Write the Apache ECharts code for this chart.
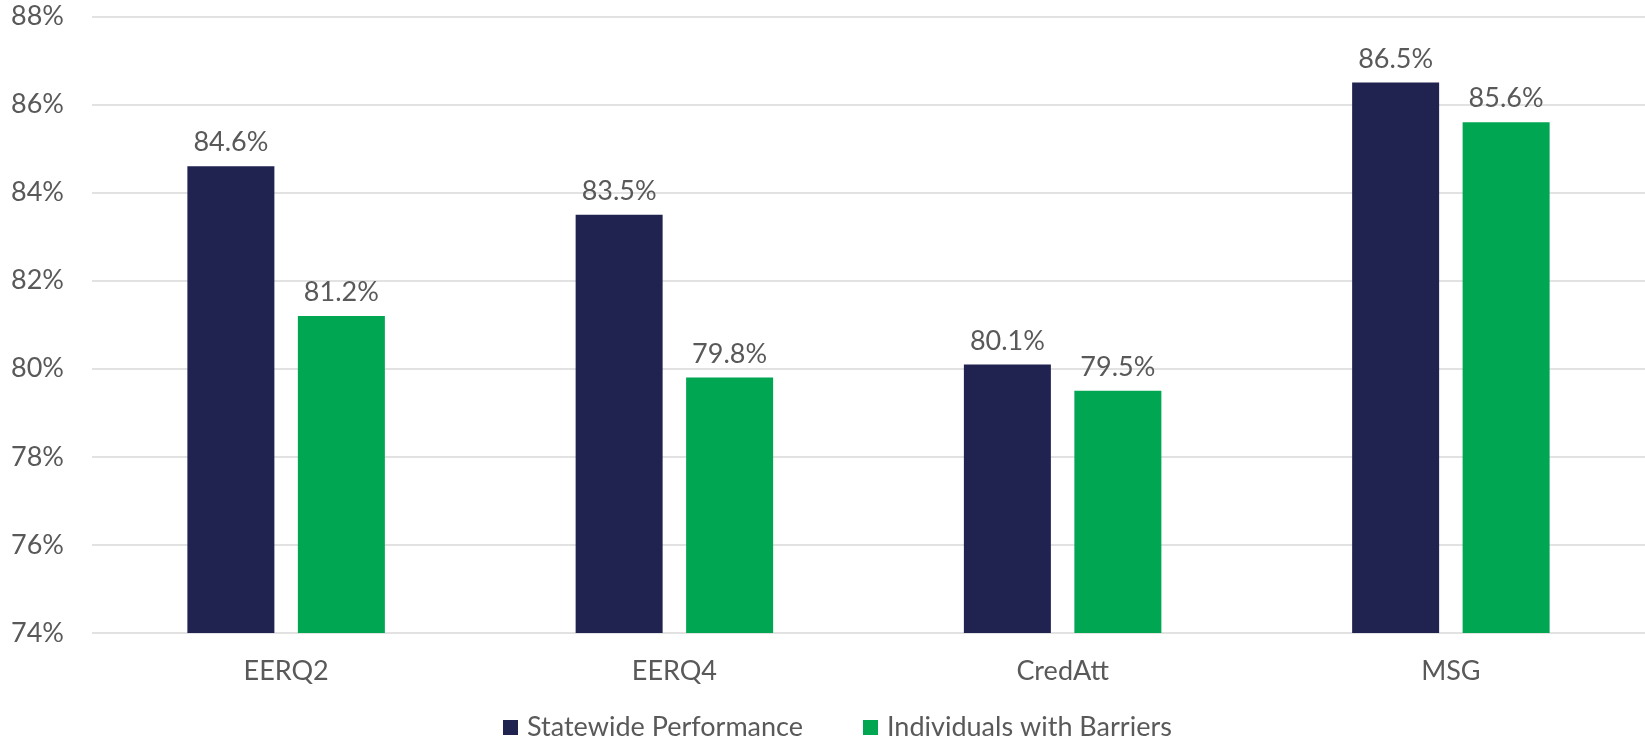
<!DOCTYPE html>
<html>
<head>
<meta charset="utf-8">
<script src="https://cdn.jsdelivr.net/npm/echarts@6/dist/echarts.min.js"></script>
<style>
  html, body { margin: 0; padding: 0; background: #ffffff; }
  #chart { width: 1645px; height: 740px; }
</style>
</head>
<body>
<div id="chart"></div>
<script>
// Performance measures by group
const categories = ['EERQ2', 'EERQ4', 'CredAtt', 'MSG'];
const seriesNames = ['Statewide Performance', 'Individuals with Barriers'];
const statewide = [84.6, 83.5, 80.1, 86.5];
const barriers = [81.2, 79.8, 79.5, 85.6];
const yTicks = { min: 74, max: 88, interval: 2 };

const FONT = 'Lato';
const TEXT = '#595959';
const SIZE = 27;

const chart = echarts.init(document.getElementById('chart'), null, { renderer: 'canvas' });

const valueLabel = {
  show: true,
  position: 'top',
  distance: 10,
  color: TEXT,
  fontFamily: FONT,
  fontSize: SIZE,
  formatter: p => p.value.toFixed(1) + '%'
};

chart.setOption({
  backgroundColor: '#ffffff',
  animation: false,
  grid: { left: 92, right: 0, top: 16.5, bottom: 107, containLabel: false },
  legend: {
    data: seriesNames,
    left: 498,
    top: 709,
    itemWidth: 15,
    itemHeight: 15,
    itemGap: 60,
    icon: 'rect',
    textStyle: { color: TEXT, fontFamily: FONT, fontSize: SIZE, padding: [0, 0, 0, 4] }
  },
  xAxis: {
    type: 'category',
    data: categories,
    axisLine: { show: false },
    axisTick: { show: false },
    axisLabel: { color: TEXT, fontFamily: FONT, fontSize: SIZE, margin: 25 }
  },
  yAxis: {
    type: 'value',
    min: yTicks.min,
    max: yTicks.max,
    interval: yTicks.interval,
    axisLine: { show: false },
    axisTick: { show: false },
    splitLine: { lineStyle: { color: '#d9d9d9', width: 1.5 } },
    axisLabel: { color: TEXT, fontFamily: FONT, fontSize: SIZE, margin: 28, formatter: '{value}%' }
  },
  series: [
    {
      name: seriesNames[0],
      type: 'bar',
      data: statewide,
      barWidth: 87,
      barGap: '27%',
      itemStyle: { color: '#202350' },
      label: valueLabel
    },
    {
      name: seriesNames[1],
      type: 'bar',
      data: barriers,
      barWidth: 87,
      itemStyle: { color: '#00a651' },
      label: valueLabel
    }
  ]
});
</script>
</body>
</html>
